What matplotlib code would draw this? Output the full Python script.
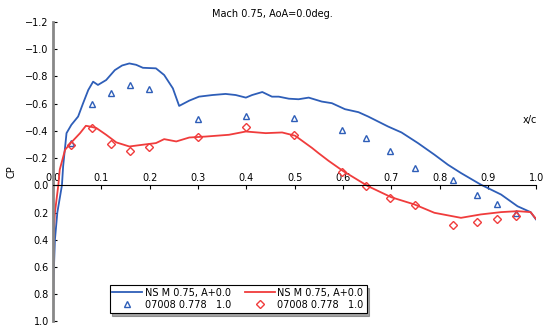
import numpy as np
import matplotlib.pyplot as plt

# NS computation, M 0.75 (blue)
ns_blue_x = [0.0, 0.001, 0.004, 0.009, 0.0185, 0.021, 0.028, 0.038, 0.052, 0.062, 0.073, 0.083, 0.093,
             0.11, 0.128, 0.143, 0.158, 0.172, 0.186, 0.213, 0.23, 0.248, 0.261, 0.282, 0.302, 0.33, 0.357,
             0.378, 0.399, 0.412, 0.433, 0.453, 0.467, 0.488, 0.508, 0.529, 0.556, 0.577, 0.604,
             0.632, 0.652, 0.693, 0.721, 0.755, 0.789, 0.817, 0.844, 0.885, 0.927, 0.961,
             0.988, 0.999]
ns_blue_cp = [1.0, 0.7, 0.4, 0.2, 0.0, -0.14, -0.383, -0.444, -0.505, -0.60, -0.70, -0.761, -0.737,
              -0.773, -0.846, -0.88, -0.895, -0.885, -0.863, -0.859, -0.81, -0.712, -0.583, -0.622, -0.651,
              -0.663, -0.671, -0.663, -0.644, -0.663, -0.685, -0.651, -0.651, -0.636, -0.632, -0.644, -0.615,
              -0.603, -0.559, -0.537, -0.505, -0.432, -0.388, -0.31, -0.225, -0.151, -0.09, -0.005, 0.068,
              0.154, 0.197, 0.25]

# NS computation (red)
ns_red_x = [0.0, 0.001, 0.004, 0.011, 0.014, 0.025, 0.038, 0.056, 0.068, 0.076, 0.09, 0.11, 0.131,
            0.158, 0.186, 0.213, 0.23, 0.255, 0.282, 0.316, 0.364, 0.399, 0.44, 0.474, 0.501,
            0.536, 0.549, 0.57, 0.6, 0.652, 0.7, 0.748, 0.789, 0.844, 0.885, 0.927, 0.961, 0.988, 0.999]
ns_red_cp = [1.0, 0.4, 0.2, 0.0, -0.115, -0.261, -0.315, -0.383, -0.437, -0.432, -0.42, -0.371, -0.315,
             -0.285, -0.298, -0.31, -0.339, -0.322, -0.351, -0.358, -0.371, -0.395, -0.383, -0.388, -0.364,
             -0.274, -0.237, -0.18, -0.105, 0.007, 0.088, 0.141, 0.202, 0.239, 0.214, 0.197, 0.19, 0.197, 0.246]

# experiment 07008
exp_x = [0.038, 0.08, 0.119, 0.159, 0.199, 0.299, 0.399, 0.499, 0.598, 0.648, 0.698, 0.748,
         0.828, 0.878, 0.918, 0.957]
exp_blue_cp = [-0.31, -0.595, -0.68, -0.74, -0.705, -0.486, -0.508, -0.493, -0.407, -0.344, -0.249, -0.127,
               -0.042, 0.07, 0.139, 0.202]
exp_red_cp = [-0.295, -0.42, -0.303, -0.254, -0.283, -0.354, -0.429, -0.371, -0.095, 0.007, 0.09, 0.143,
              0.295, 0.273, 0.249, 0.227]

x_ticks = ["0.0", "0.1", "0.2", "0.3", "0.4", "0.5", "0.6", "0.7", "0.8", "0.9", "1.0"]
y_ticks = ["-1.2", "-1.0", "-0.8", "-0.6", "-0.4", "-0.2", "0.0", "0.2", "0.4", "0.6", "0.8", "1.0"]

plt.rc("font", size = 7)
fig = plt.figure(figsize = (5.44, 3.27), dpi = 100)
ax = fig.add_axes([0.0974, 0.017, 0.8886, 0.916])

blue = "#2e5eb8"
red = "#f03c3c"
ax.plot(ns_blue_x, ns_blue_cp, color = blue, lw = 1.3, label = "NS M 0.75, A+0.0")
ax.plot(exp_x, exp_blue_cp, ls = "none", marker = "^", mfc = "none", mec = blue, ms = 5, mew = 1.0,
        label = "07008 0.778   1.0")
ax.plot(ns_red_x, ns_red_cp, color = red, lw = 1.3, label = "NS M 0.75, A+0.0")
ax.plot(exp_x, exp_red_cp, ls = "none", marker = "D", mfc = "none", mec = red, ms = 4, mew = 1.0,
        label = "07008 0.778   1.0")

ax.set_xlim(0, 1.0)
ax.set_ylim(1.0, -1.2)
ax.set_xticks(np.linspace(0, 1.0, len(x_ticks)))
ax.set_xticklabels(x_ticks)
ax.set_yticks(np.linspace(-1.2, 1.0, len(y_ticks)))
ax.set_yticklabels([t.replace("-", "\u2212") for t in y_ticks])

# horizontal axis through CP = 0, labels above the line
ax.spines["top"].set_position(("data", 0))
ax.spines["bottom"].set_visible(False)
ax.spines["right"].set_visible(False)
ax.spines["left"].set_color("#888888")
ax.spines["left"].set_linewidth(2)
ax.xaxis.set_ticks_position("top")
ax.tick_params(axis = "x", direction = "in", length = 3, pad = 2)
ax.tick_params(axis = "y", direction = "in", length = 3, pad = 3)

fig.text(0.5, 0.957, "Mach 0.75, AoA=0.0deg.", ha = "center", va = "center", fontsize = 7)
fig.text(0.975, 0.633, "x/c", ha = "center", va = "center", fontsize = 7)
fig.text(0.022, 0.474, "CP", rotation = 90, ha = "center", va = "center", fontsize = 7)

leg = ax.legend(ncol = 2, loc = "lower left", bbox_to_anchor = (0.117, 0.029), borderaxespad = 0,
                fancybox = False, shadow = True, edgecolor = "black", framealpha = 1,
                handlelength = 3.0, columnspacing = 1.5, handletextpad = 0.3, borderpad = 0.3,
                labelspacing = 0.2)
leg.get_frame().set_linewidth(0.8)

plt.savefig("out.png", dpi = 100)
